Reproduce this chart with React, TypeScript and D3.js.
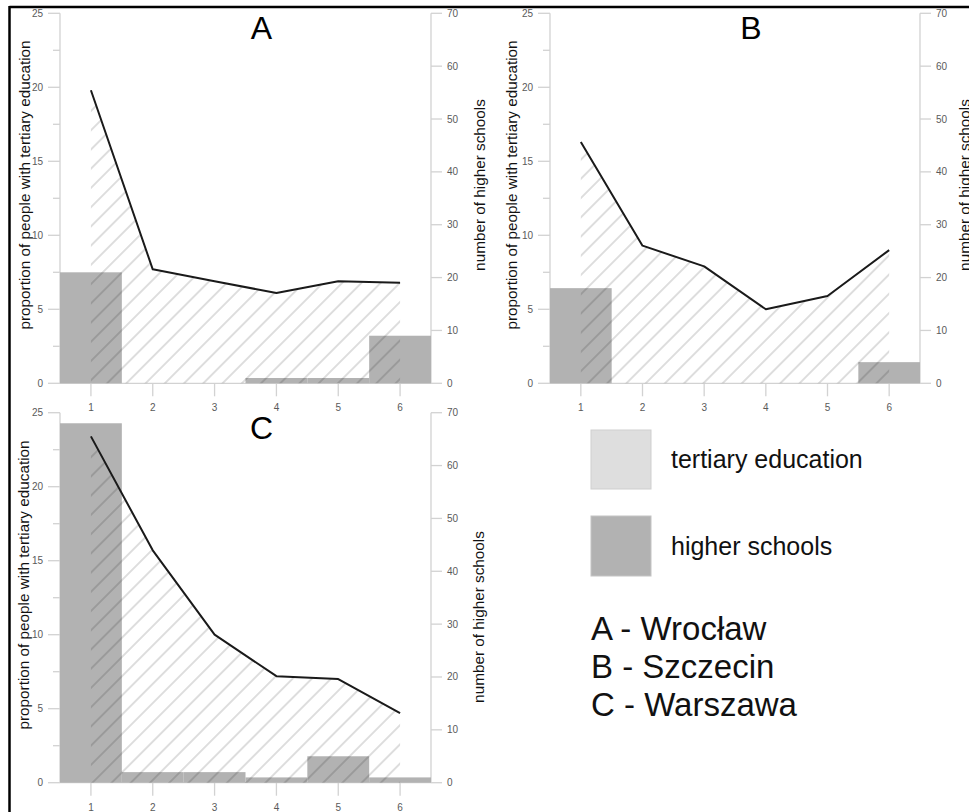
import React from "react";
import * as d3 from "d3";

// Zones 1..6 along the x axis
const ZONES = [1, 2, 3, 4, 5, 6];
const LEFT_TICKS = [0, 5, 10, 15, 20, 25];
const LEFT_MINOR = [2.5, 7.5, 12.5, 17.5, 22.5];
const RIGHT_TICKS = [0, 10, 20, 30, 40, 50, 60, 70];

// Share of people with tertiary education (%) per zone
const tertiaryWroclaw = [19.8, 7.7, 6.9, 6.1, 6.9, 6.8];
const tertiarySzczecin = [16.3, 9.3, 7.9, 5.0, 5.9, 9.0];
const tertiaryWarszawa = [23.4, 15.7, 10.0, 7.2, 7.0, 4.7];

// Number of higher schools per zone
const schoolsWroclaw = [21, 0, 0, 1, 1, 9];
const schoolsSzczecin = [18, 0, 0, 0, 0, 4];
const schoolsWarszawa = [68, 2, 2, 1, 5, 1];

const LEGEND_ITEMS = ["tertiary education", "higher schools"];
const CITY_KEYS = ["A - Wrocław", "B - Szczecin", "C - Warszawa"];

const FONT = "'Liberation Sans', Arial, Helvetica, sans-serif";
const AXIS_COLOR = "#d2d2d2";
const TICK_TEXT = "#5a5a5a";
const BAR_FILL = "#b2b2b2";

type PanelProps = {
  title: string;
  tertiary: number[];
  schools: number[];
  left: number;
  right: number;
  top: number;
  bottom: number;
  leftLabel: [number, number];
  rightLabel: [number, number];
};

function Panel(p: PanelProps) {
  const x = d3.scaleLinear().domain([0.5, 6.5]).range([p.left, p.right]);
  const yL = d3.scaleLinear().domain([0, 25]).range([p.bottom, p.top]);
  const yR = d3.scaleLinear().domain([0, 70]).range([p.bottom, p.top]);

  const area = d3
    .area<number>()
    .x((_, i) => x(ZONES[i]))
    .y0(yL(0))
    .y1((d) => yL(d));
  const line = d3
    .line<number>()
    .x((_, i) => x(ZONES[i]))
    .y((d) => yL(d));

  const cx = (p.left + p.right) / 2 + 16;

  return (
    <g>
      {/* axes */}
      <line x1={p.left} x2={p.left} y1={yL(0)} y2={yL(25)} stroke={AXIS_COLOR} strokeWidth={1.3} />
      <line x1={p.right} x2={p.right} y1={yR(0)} y2={yR(70)} stroke={AXIS_COLOR} strokeWidth={1.3} />
      <line x1={p.left} x2={p.right} y1={yL(0)} y2={yL(0)} stroke={AXIS_COLOR} strokeWidth={1.3} />
      {LEFT_TICKS.map((t) => (
        <g key={"l" + t}>
          <line x1={p.left - 12} x2={p.left} y1={yL(t)} y2={yL(t)} stroke={AXIS_COLOR} strokeWidth={1.3} />
          <text x={p.left - 17} y={yL(t)} dy="0.35em" textAnchor="end" fontSize={10} fill={TICK_TEXT}>
            {t}
          </text>
        </g>
      ))}
      {LEFT_MINOR.map((t) => (
        <line key={"m" + t} x1={p.left - 7} x2={p.left} y1={yL(t)} y2={yL(t)} stroke={AXIS_COLOR} strokeWidth={1.3} />
      ))}
      {RIGHT_TICKS.map((t) => (
        <g key={"r" + t}>
          <line x1={p.right} x2={p.right + 11} y1={yR(t)} y2={yR(t)} stroke={AXIS_COLOR} strokeWidth={1.3} />
          <text x={p.right + 16} y={yR(t)} dy="0.35em" textAnchor="start" fontSize={10} fill={TICK_TEXT}>
            {t}
          </text>
        </g>
      ))}
      {ZONES.map((z) => (
        <g key={"x" + z}>
          <line x1={x(z)} x2={x(z)} y1={yL(0)} y2={yL(0) + 13} stroke={AXIS_COLOR} strokeWidth={1.3} />
          <text x={x(z)} y={yL(0) + 28} textAnchor="middle" fontSize={10} fill={TICK_TEXT}>
            {z}
          </text>
        </g>
      ))}

      {/* higher schools bars */}
      {p.schools.map((v, i) =>
        v > 0 ? (
          <rect
            key={"b" + i}
            x={x(ZONES[i] - 0.5)}
            width={x(ZONES[i] + 0.5) - x(ZONES[i] - 0.5)}
            y={yR(v)}
            height={yR(0) - yR(v)}
            fill={BAR_FILL}
          />
        ) : null
      )}

      {/* tertiary education: hatched area and outline */}
      <path d={area(p.tertiary) || ""} fill="url(#hatch)" stroke="none" />
      <path d={line(p.tertiary) || ""} fill="none" stroke="#1a1a1a" strokeWidth={2} strokeLinejoin="round" />

      {/* titles */}
      <text x={cx} y={p.top + 26} textAnchor="middle" fontSize={32} fill="#000">
        {p.title}
      </text>
      <text
        transform={`translate(${p.leftLabel[0]},${p.leftLabel[1]}) rotate(-90)`}
        dy="0.35em"
        textAnchor="middle"
        fontSize={15.3}
        fill="#111"
      >
        proportion of people with tertiary education
      </text>
      <text
        transform={`translate(${p.rightLabel[0]},${p.rightLabel[1]}) rotate(-90)`}
        dy="0.35em"
        textAnchor="middle"
        fontSize={15.3}
        fill="#111"
      >
        number of higher schools
      </text>
    </g>
  );
}

export default function App() {
  return (
    <svg
      width={969}
      height={812}
      style={{ position: "absolute", left: 0, top: 0, background: "#fff" }}
      fontFamily={FONT}
    >
      <defs>
        <pattern id="hatch" patternUnits="userSpaceOnUse" width={13.6} height={13.6} patternTransform="rotate(45)">
          <line x1={6.8} x2={6.8} y1={0} y2={13.6} stroke="rgba(0,0,0,0.26)" strokeWidth={1} />
        </pattern>
      </defs>
      <rect x={0} y={0} width={969} height={812} fill="#fff" />

      <Panel
        title="A"
        tertiary={tertiaryWroclaw}
        schools={schoolsWroclaw}
        left={60}
        right={431}
        top={13.3}
        bottom={383.3}
        leftLabel={[25, 185]}
        rightLabel={[480, 185]}
      />
      <Panel
        title="B"
        tertiary={tertiarySzczecin}
        schools={schoolsSzczecin}
        left={550}
        right={920}
        top={13.3}
        bottom={383.3}
        leftLabel={[511.7, 185]}
        rightLabel={[965, 185]}
      />
      <Panel
        title="C"
        tertiary={tertiaryWarszawa}
        schools={schoolsWarszawa}
        left={60}
        right={431}
        top={412.7}
        bottom={782.7}
        leftLabel={[24, 585]}
        rightLabel={[479, 617]}
      />

      {/* legend */}
      <rect x={591} y={430} width={60} height={59} fill="#dedede" stroke="#cfcfcf" strokeWidth={1} />
      <text x={671} y={468} fontSize={25} fill="#111">
        {LEGEND_ITEMS[0]}
      </text>
      <rect x={591} y={516} width={60} height={60} fill={BAR_FILL} stroke="#c4c4c4" strokeWidth={1} />
      <text x={671} y={555} fontSize={25} fill="#111">
        {LEGEND_ITEMS[1]}
      </text>
      {CITY_KEYS.map((k, i) => (
        <text key={k} x={591} y={639.5 + i * 38} fontSize={33} fill="#111">
          {k}
        </text>
      ))}

      {/* frame */}
      <line x1={9.5} x2={969} y1={7} y2={7} stroke="#000" strokeWidth={2.5} />
      <line x1={9.5} x2={9.5} y1={6} y2={812} stroke="#000" strokeWidth={2.5} />
    </svg>
  );
}
